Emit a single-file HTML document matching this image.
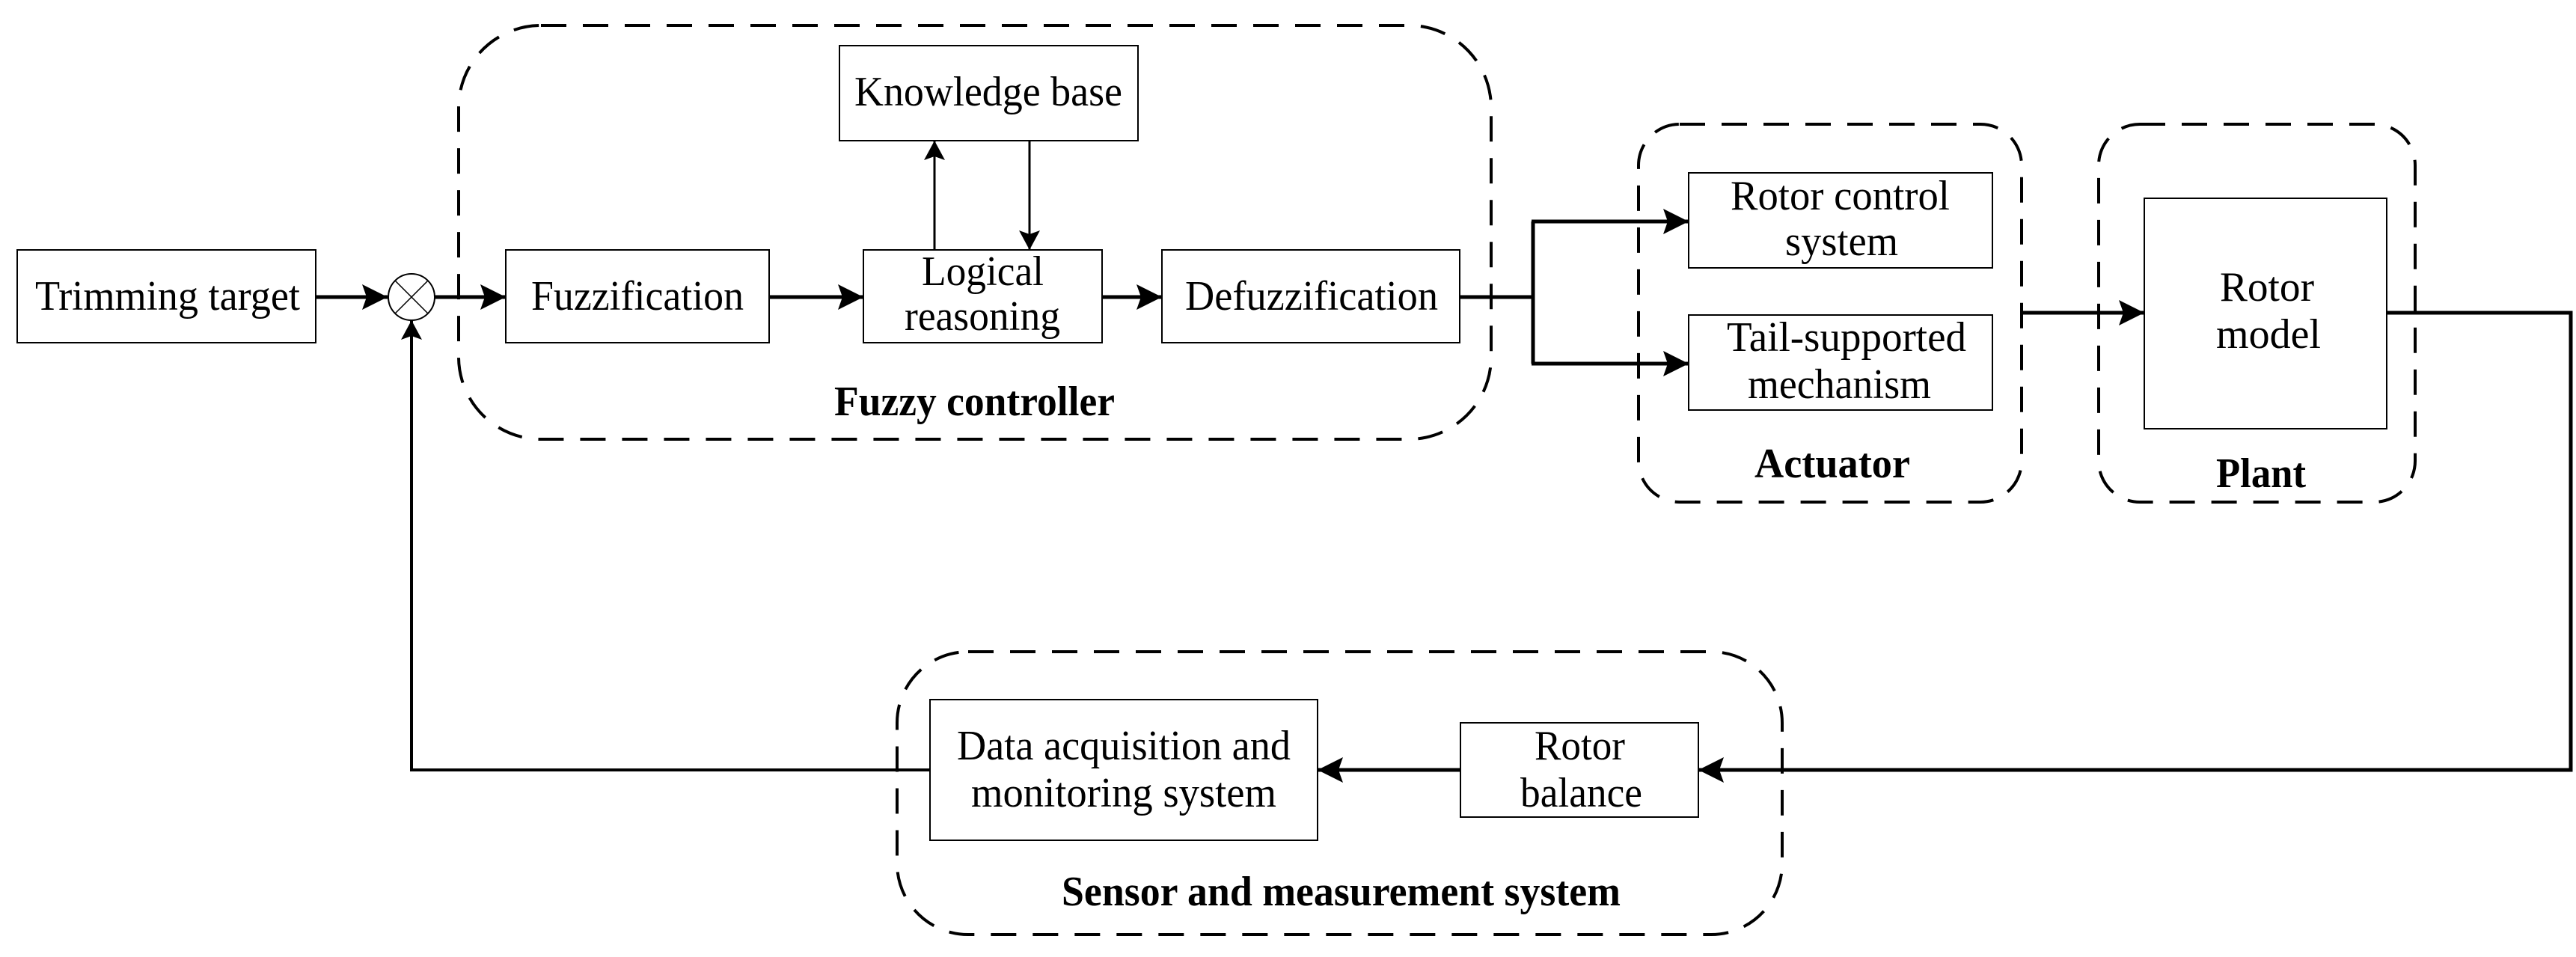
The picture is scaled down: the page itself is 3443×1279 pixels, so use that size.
<!DOCTYPE html>
<html><head><meta charset="utf-8"><style>html,body{margin:0;padding:0;background:#fff}svg{display:block}</style></head>
<body>
<svg xmlns="http://www.w3.org/2000/svg" width="3443" height="1279" viewBox="0 0 3443 1279">
<defs>
<marker id="a" markerWidth="34" markerHeight="34" refX="34" refY="17" orient="auto" markerUnits="userSpaceOnUse" viewBox="0 0 34 34"><path d="M0,0 L34,17 L0,34 L6,17 Z" fill="#000"/></marker>
<marker id="b" markerWidth="26" markerHeight="28" refX="26" refY="14" orient="auto" markerUnits="userSpaceOnUse" viewBox="0 0 26 28"><path d="M0,0 L26,14 L0,28 L5,14 Z" fill="#000"/></marker>
</defs>
<g font-family="Liberation Serif, serif" font-size="56" fill="#000" text-anchor="start">
<g fill="none" stroke="#000" stroke-width="4" stroke-dasharray="34,22">
<rect x="613" y="34" width="1380" height="553" rx="110" ry="110"/>
<rect x="2190" y="166" width="512" height="505" rx="55" ry="55"/>
<rect x="2805" y="166" width="423" height="505" rx="55" ry="55"/>
<rect x="1199" y="871" width="1183" height="378" rx="95" ry="95"/>
</g>
<g fill="#fff" stroke="#000" stroke-width="2">
<rect x="23" y="334" width="399" height="124"/>
<rect x="676" y="334" width="352" height="124"/>
<rect x="1154" y="334" width="319" height="124"/>
<rect x="1553" y="334" width="398" height="124"/>
<rect x="1122" y="61" width="399" height="127"/>
<rect x="2257" y="231" width="406" height="127"/>
<rect x="2257" y="421" width="406" height="127"/>
<rect x="2866" y="265" width="324" height="308"/>
<rect x="1243" y="935" width="518" height="188"/>
<rect x="1952" y="966" width="318" height="126"/>
</g>
<circle cx="550" cy="397" r="31" fill="#fff" stroke="#000" stroke-width="2"/>
<path d="M528,375 L572,419 M572,375 L528,419" stroke="#000" stroke-width="1.5"/>
<g stroke="#000" stroke-width="5" fill="none">
<path d="M422,397 L518,397" marker-end="url(#a)"/>
<path d="M581,397 L676,397" marker-end="url(#a)"/>
<path d="M1028,397 L1154,397" marker-end="url(#a)"/>
<path d="M1473,397 L1553,397" marker-end="url(#a)"/>
<path d="M1951,397 L2049,397"/>
<path d="M2049,296 L2049,486"/>
<path d="M2047,296 L2257,296" marker-end="url(#a)"/>
<path d="M2047,486 L2257,486" marker-end="url(#a)"/>
<path d="M2702,418 L2866,418" marker-end="url(#a)"/>
<path d="M3190,418 L3436,418 L3436,1029 L2270,1029" marker-end="url(#a)"/>
<path d="M1952,1029 L1761,1029" marker-end="url(#a)"/>
<path d="M1243,1029 L550,1029 L550,428" stroke-width="4" marker-end="url(#b)"/>
<path d="M1249,334 L1249,188" stroke-width="3" marker-end="url(#b)"/>
<path d="M1376,188 L1376,334" stroke-width="3" marker-end="url(#b)"/>
</g>
<text x="47" y="414" textLength="354" lengthAdjust="spacingAndGlyphs">Trimming target</text>
<text x="710" y="414" textLength="284" lengthAdjust="spacingAndGlyphs">Fuzzification</text>
<text x="1232" y="381" textLength="163" lengthAdjust="spacingAndGlyphs">Logical</text>
<text x="1209" y="441" textLength="208" lengthAdjust="spacingAndGlyphs">reasoning</text>
<text x="1584" y="414" textLength="338" lengthAdjust="spacingAndGlyphs">Defuzzification</text>
<text x="1142" y="141" textLength="358" lengthAdjust="spacingAndGlyphs">Knowledge base</text>
<text x="2313" y="280" textLength="293" lengthAdjust="spacingAndGlyphs">Rotor control</text>
<text x="2386" y="341" textLength="151" lengthAdjust="spacingAndGlyphs">system</text>
<text x="2308" y="469" textLength="320" lengthAdjust="spacingAndGlyphs">Tail-supported</text>
<text x="2336" y="532" textLength="245" lengthAdjust="spacingAndGlyphs">mechanism</text>
<text x="2967" y="402" textLength="126" lengthAdjust="spacingAndGlyphs">Rotor</text>
<text x="2962" y="465" textLength="140" lengthAdjust="spacingAndGlyphs">model</text>
<text x="1279" y="1015" textLength="446" lengthAdjust="spacingAndGlyphs">Data acquisition and</text>
<text x="1298" y="1078" textLength="408" lengthAdjust="spacingAndGlyphs">monitoring system</text>
<text x="2051" y="1015" textLength="121" lengthAdjust="spacingAndGlyphs">Rotor</text>
<text x="2032" y="1078" textLength="163" lengthAdjust="spacingAndGlyphs">balance</text>
<g font-weight="bold">
<text x="1115" y="555" textLength="375" lengthAdjust="spacingAndGlyphs">Fuzzy controller</text>
<text x="2345" y="638" textLength="208" lengthAdjust="spacingAndGlyphs">Actuator</text>
<text x="2962" y="651" textLength="120" lengthAdjust="spacingAndGlyphs">Plant</text>
<text x="1419" y="1210" textLength="747" lengthAdjust="spacingAndGlyphs">Sensor and measurement system</text>
</g>
</g>
</svg>
</body></html>
